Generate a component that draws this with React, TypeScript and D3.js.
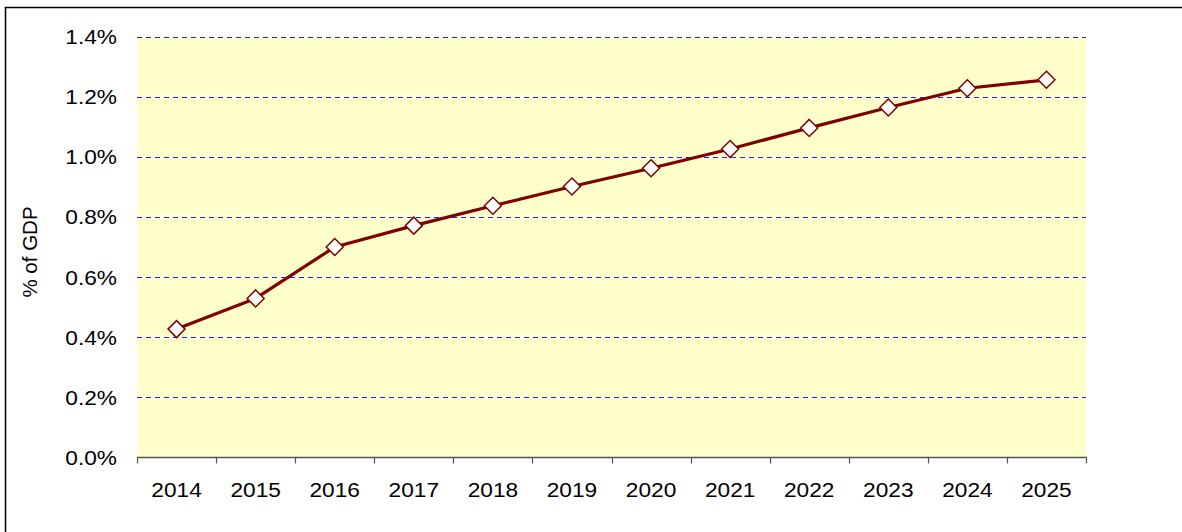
import * as d3 from 'd3';

const years = ['2014', '2015', '2016', '2017', '2018', '2019', '2020', '2021', '2022', '2023', '2024', '2025'];
const values = [0.427, 0.529, 0.700, 0.771, 0.837, 0.901, 0.962, 1.026, 1.096, 1.164, 1.228, 1.256];
const yTicks = [0, 0.2, 0.4, 0.6, 0.8, 1.0, 1.2, 1.4];
const yTitle = '% of GDP';

const W = 1182;
const H = 532;
const plot = { left: 137, right: 1086, top: 36.5, bottom: 457.5 };
const font = '"Liberation Sans", Arial, sans-serif';
const stretch = 1.08; // labels in the source are slightly wider than plain Arial

export default function App() {
  const x = d3.scaleBand().domain(years).range([plot.left, plot.right]);
  const y = d3.scaleLinear().domain([0, 1.4]).range([plot.bottom, plot.top]);

  const line = d3.line<number>()
    .x((_, i) => x(years[i])! + x.bandwidth() / 2)
    .y(d => y(d));

  const boundaries = years.map(d => x(d)!).concat([plot.right]);
  const r = 8.5; // diamond half-diagonal

  return (
    <svg width={W} height={H} style={{ position: 'absolute', left: 0, top: 0, background: '#fff' }}>
      {/* outer frame */}
      <path d={`M5.5,${H + 2} V7.5 H${W + 2}`} fill="none" stroke="#000" strokeWidth={1.5} />

      <rect x={plot.left} y={plot.top} width={plot.right - plot.left} height={plot.bottom - plot.top} fill="#ffffcc" />

      {/* gridlines */}
      {yTicks.filter(t => t > 0).map(t => (
        <line key={t} x1={plot.left} x2={plot.right} y1={Math.round(y(t)) + 0.5} y2={Math.round(y(t)) + 0.5}
          stroke="#2020ff" strokeDasharray="5,4" strokeWidth={1} />
      ))}

      {/* x axis */}
      <line x1={plot.left} x2={plot.right + 1} y1={plot.bottom} y2={plot.bottom} stroke="#555" strokeWidth={1.3} />
      {boundaries.map((b, i) => (
        <line key={i} x1={Math.round(b) + 0.5} x2={Math.round(b) + 0.5} y1={plot.bottom} y2={plot.bottom + 6} stroke="#555" strokeWidth={1.2} />
      ))}
      {years.map(yr => (
        <text key={yr} transform={`translate(${x(yr)! + x.bandwidth() / 2},497) scale(${stretch},1)`} textAnchor="middle"
          fontFamily={font} fontSize={21} fill="#000">{yr}</text>
      ))}

      {/* y tick labels */}
      {yTicks.map(t => (
        <text key={t} transform={`translate(117,${y(t) + 7.5}) scale(${stretch},1)`} textAnchor="end"
          fontFamily={font} fontSize={21} fill="#000">
          {d3.format('.1%')(t / 100)}
        </text>
      ))}

      <text transform="translate(37,252) rotate(-90)" textAnchor="middle" fontFamily={font} fontSize={20.5} fill="#000">
        {yTitle}
      </text>

      {/* series */}
      <path d={line(values) ?? ''} fill="none" stroke="#800000" strokeWidth={3.2} strokeLinejoin="round" />
      {values.map((v, i) => {
        const cx = x(years[i])! + x.bandwidth() / 2;
        const cy = y(v);
        return (
          <path key={i} d={`M${cx},${cy - r}L${cx + r},${cy}L${cx},${cy + r}L${cx - r},${cy}Z`}
            fill="#fff" stroke="#800000" strokeWidth={1.5} />
        );
      })}
    </svg>
  );
}
